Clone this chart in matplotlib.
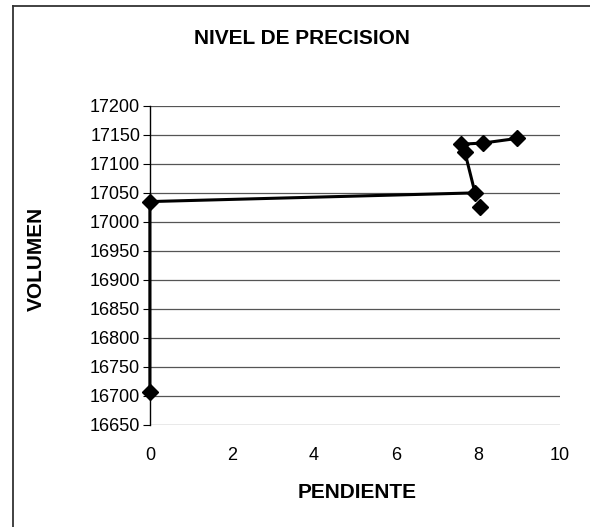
# grafica de nivel de precision: volumen vs pendiente

import matplotlib
matplotlib.use('Agg')
import matplotlib.pyplot as plt
from matplotlib.lines import Line2D

plt.rcParams['font.family'] = ['Liberation Sans', 'DejaVu Sans']

# serie principal (en el orden en que se une la linea)
pendiente = [0.0, 0.0, 7.93, 7.68, 7.6, 8.13, 8.96]
volumen = [16707, 17035, 17050, 17121, 17134, 17136, 17144]

# punto suelto que queda debajo del marcador de 17050
pendiente_extra = [8.06]
volumen_extra = [17025]

y_ticks = list(range(16650, 17201, 50))
x_ticks = [0, 2, 4, 6, 8, 10]

fig = plt.figure(figsize=(5.9, 5.27), dpi=100)
ax = fig.add_axes([0.254, 0.194, 0.695, 0.605])

ax.plot(pendiente, volumen, color='black', linewidth=2.2,
        marker='D', markersize=8, markerfacecolor='black', zorder=3, clip_on=False)
ax.plot(pendiente_extra, volumen_extra, linestyle='none',
        marker='D', markersize=8, color='black', zorder=3)

ax.set_xlim(0, 10)
ax.set_ylim(16650, 17200)
ax.set_xticks(x_ticks)
ax.set_yticks(y_ticks)
ax.yaxis.grid(True, color='#555555', linewidth=0.9)
ax.set_axisbelow(True)

for s in ['top', 'right', 'bottom']:
    ax.spines[s].set_visible(False)
ax.spines['left'].set_color('black')
ax.spines['left'].set_linewidth(1)

ax.tick_params(axis='y', direction='out', length=5, labelsize=13, pad=2)
ax.tick_params(axis='x', length=0, labelsize=13, pad=16)

fig.text(0.605, 1 - 492 / 527, 'PENDIENTE', ha='center', va='center',
         fontsize=15, fontweight='bold')
fig.text(36 / 590, 1 - 259 / 527, 'VOLUMEN', ha='center', va='center',
         rotation=90, fontsize=15, fontweight='bold')
fig.text(302 / 590, 1 - 38 / 527, 'NIVEL DE PRECISION', ha='center', va='center',
         fontsize=15, fontweight='bold')

# borde del area del grafico (cortado a la derecha y abajo)
x0, y0 = 13 / 590, 1 - 6 / 527
fig.lines.append(Line2D([x0, x0], [0, y0], transform=fig.transFigure,
                        color='#333333', linewidth=1.3))
fig.lines.append(Line2D([x0, 1], [y0, y0], transform=fig.transFigure,
                        color='#333333', linewidth=1.3))

fig.savefig('out.png', dpi=100)
plt.close(fig)
